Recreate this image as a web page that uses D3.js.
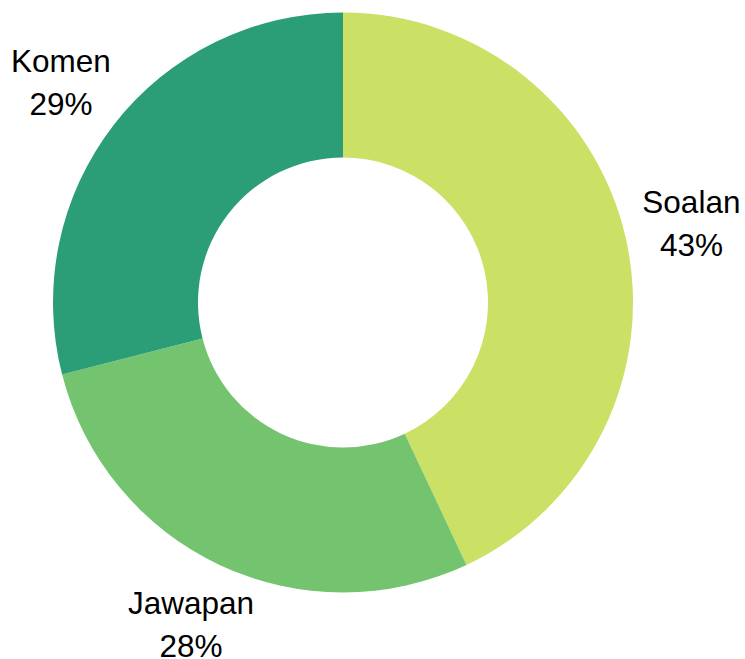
<!DOCTYPE html>
<html><head><meta charset="utf-8">
<script src="https://cdn.jsdelivr.net/npm/d3@7"></script>
<style>html,body{margin:0;padding:0;background:#fff;}</style>
</head><body>
<svg id="c" width="745" height="659"></svg>
<script>
const categories = ["Soalan", "Jawapan", "Komen"];
const values = [43, 28, 29];
const colors = ["#cbe166", "#74c46f", "#2b9e78"];

const svg = d3.select("#c");
const cx = 343, cy = 302.5, R = 290, r0 = 145, rl = 357;
const g = svg.append("g").attr("transform", `translate(${cx},${cy})`);
const data = categories.map((c, i) => ({cat: c, v: values[i], col: colors[i]}));
const pie = d3.pie().value(d => d.v).sort(null);
const arc = d3.arc().innerRadius(r0).outerRadius(R);
const arcs = pie(data);
g.selectAll("path").data(arcs).enter().append("path")
  .attr("d", arc).attr("fill", d => d.data.col);
const lab = d3.arc().innerRadius(rl).outerRadius(rl);
const total = d3.sum(values);
arcs.forEach(a => {
  const [x, y] = lab.centroid(a);
  const t = g.append("text").attr("text-anchor", "middle")
    .attr("font-family", "Liberation Sans, Arial, sans-serif")
    .attr("font-size", 31.5).attr("fill", "#000");
  t.append("tspan").attr("x", x).attr("y", y - 12).text(a.data.cat);
  t.append("tspan").attr("x", x).attr("y", y + 31).text(Math.round(a.data.v / total * 100) + "%");
});
</script>
</body></html>
